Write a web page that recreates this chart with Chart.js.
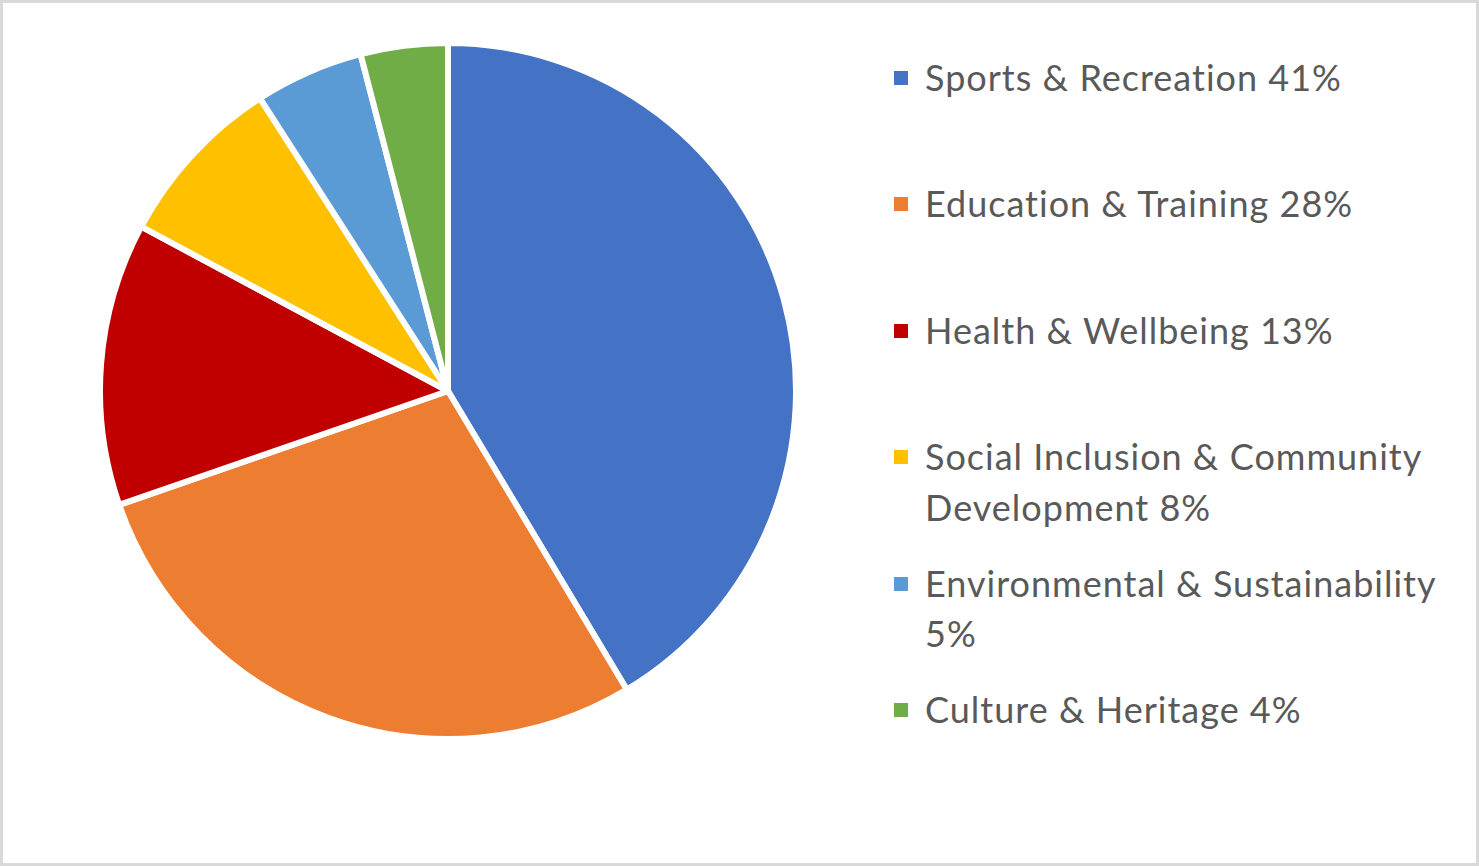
<!DOCTYPE html>
<html>
<head>
<meta charset="utf-8">
<script src="https://cdn.jsdelivr.net/npm/chart.js@4.4.1/dist/chart.umd.min.js"></script>
<style>
    html, body { margin: 0; padding: 0; background: #fff; }
    .frame {
        position: relative;
        width: 1479px;
        height: 866px;
        box-sizing: border-box;
        border: 3px solid #d9d9d9;
        background: #fff;
        overflow: hidden;
    }
    .pie-box {
        position: absolute;
        left: 93.5px;
        top: 37px;
        width: 702px;
        height: 702px;
    }
    .legend {
        position: absolute;
        left: 891px;
        top: 49px;
        width: 565px;
        font-family: Lato, "Noto Sans", sans-serif;
        font-size: 36px;
        letter-spacing: 1px;
        color: #595959;
    }
    .legend-item {
        position: relative;
        height: 126.4px;
        line-height: 50.5px;
        padding-left: 31px;
    }
    .legend-item .swatch {
        position: absolute;
        left: 0;
        top: 19px;
        width: 14px;
        height: 14px;
    }
</style>
</head>
<body>
<div class="frame">
    <div class="pie-box"><canvas id="pieChart"></canvas></div>
    <div class="legend" id="legend"></div>
</div>
<script>
// categories and their shares (percent)
const categories = [
    'Sports & Recreation',
    'Education & Training',
    'Health & Wellbeing',
    'Social Inclusion & Community Development',
    'Environmental & Sustainability',
    'Culture & Heritage'
];
const shares = [41, 28, 13, 8, 5, 4];
const sliceColors = ['#4472C4', '#ED7D31', '#C00000', '#FFC000', '#5B9BD5', '#70AD47'];

const chart = new Chart(document.getElementById('pieChart'), {
    type: 'pie',
    data: {
        labels: categories,
        datasets: [{
            data: shares,
            backgroundColor: sliceColors,
            borderColor: '#ffffff',
            borderWidth: 6
        }]
    },
    options: {
        responsive: true,
        maintainAspectRatio: false,
        animation: false,
        layout: { padding: 0 },
        plugins: {
            legend: { display: false },
            tooltip: { enabled: false }
        }
    }
});

// legend built from the same arrays (Chart.js legend cannot wrap long labels)
const legendEl = document.getElementById('legend');
categories.forEach((name, i) => {
    const item = document.createElement('div');
    item.className = 'legend-item';
    const sw = document.createElement('span');
    sw.className = 'swatch';
    sw.style.background = sliceColors[i];
    item.appendChild(sw);
    item.appendChild(document.createTextNode(name + ' ' + shares[i] + '%'));
    legendEl.appendChild(item);
});
</script>
</body>
</html>
